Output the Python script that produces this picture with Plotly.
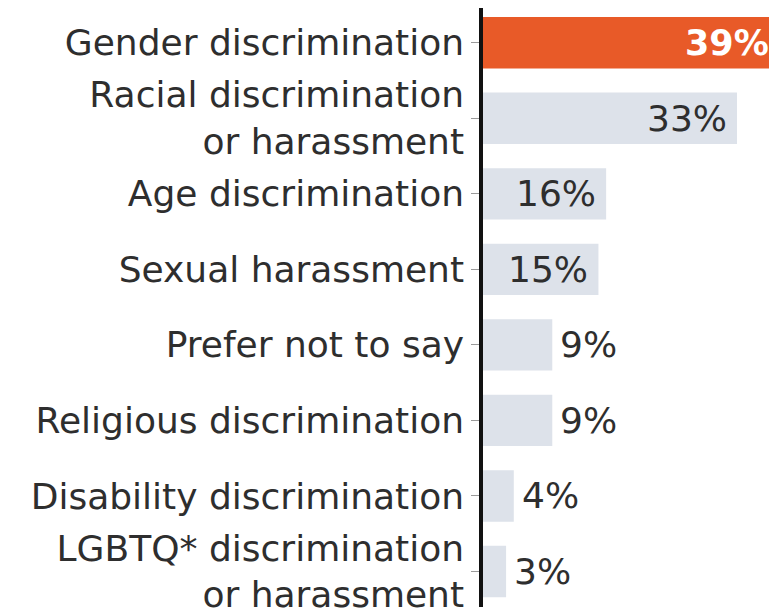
import plotly.graph_objects as go

categories = [
    "Gender discrimination",
    "Racial discrimination<br>or harassment",
    "Age discrimination",
    "Sexual harassment",
    "Prefer not to say",
    "Religious discrimination",
    "Disability discrimination",
    "LGBTQ* discrimination<br>or harassment",
]
values = [39, 33, 16, 15, 9, 9, 4, 3]
value_labels = ["39%", "33%", "16%", "15%", "9%", "9%", "4%", "3%"]

HIGHLIGHT = "#E85A28"
BASE = "#DDE2EA"
TEXT = "#2E2E2E"
FONT = "DejaVu Sans"
XMAX = 38.2

colors = [HIGHLIGHT if i == 0 else BASE for i in range(len(values))]

fig = go.Figure(
    go.Bar(
        x=values,
        y=categories,
        orientation="h",
        marker=dict(color=colors, line=dict(width=0)),
        hoverinfo="skip",
    )
)

annotations = []
for i, (cat, v, lab) in enumerate(zip(categories, values, value_labels)):
    if i == 0:
        annotations.append(dict(
            x=min(v, XMAX), y=cat, xref="x", yref="y", text=lab, showarrow=False,
            xanchor="right", yanchor="middle", xshift=-6,
            font=dict(family=FONT, size=35, color="white", weight="bold"),
        ))
    elif v >= 12:
        annotations.append(dict(
            x=v, y=cat, xref="x", yref="y", text=lab, showarrow=False,
            xanchor="right", yanchor="middle", xshift=-8,
            font=dict(family=FONT, size=36, color=TEXT),
        ))
    else:
        annotations.append(dict(
            x=v, y=cat, xref="x", yref="y", text=lab, showarrow=False,
            xanchor="left", yanchor="middle", xshift=6,
            font=dict(family=FONT, size=36, color=TEXT),
        ))

fig.update_layout(
    width=769,
    height=607,
    margin=dict(l=475, r=0, t=0, b=0, pad=0),
    paper_bgcolor="white",
    plot_bgcolor="white",
    bargap=0.32,
    showlegend=False,
    annotations=annotations,
    font=dict(family=FONT, color=TEXT),
    xaxis=dict(
        range=[0, XMAX], visible=False, fixedrange=True,
    ),
    yaxis=dict(
        range=[7.47, -0.46],
        showline=True, linecolor="#111111", linewidth=3.5,
        ticks="outside", ticklen=8, tickwidth=1.3, tickcolor="#9A9A9A",
        tickfont=dict(family=FONT, size=36, color=TEXT),
        showgrid=False, zeroline=False, fixedrange=True,
    ),
)

fig.write_html("out.html")
